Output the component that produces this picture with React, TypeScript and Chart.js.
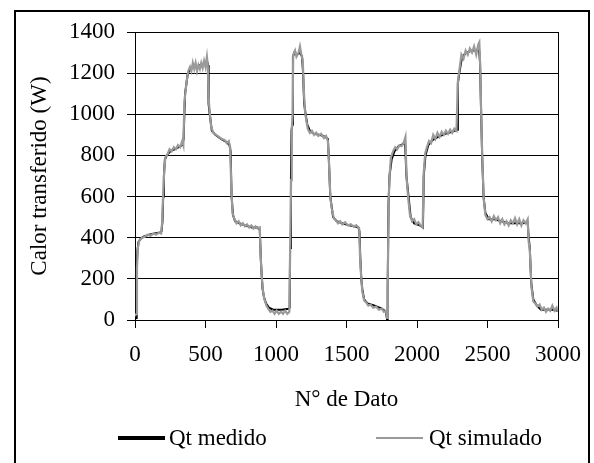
import React, { useEffect, useRef } from "react";
import { Chart, registerables } from "chart.js";

Chart.register(...registerables);

// N° de Dato (x) and Calor transferido (W) (y) pairs
const medidoX = [0, 8, 12, 18, 25, 40, 60, 100, 140, 180, 188, 195, 200, 205, 212, 225, 250, 280, 310, 335, 345, 350, 355, 365, 375, 395, 420, 440, 460, 490, 510, 518, 522, 530, 545, 570, 610, 650, 670, 678, 685, 695, 710, 740, 780, 830, 870, 885, 892, 900, 905, 915, 930, 950, 980, 1040, 1090, 1097, 1100, 1106, 1110, 1116, 1120, 1130, 1150, 1170, 1185, 1192, 1200, 1210, 1222, 1240, 1270, 1310, 1350, 1368, 1375, 1385, 1395, 1405, 1430, 1470, 1520, 1560, 1585, 1592, 1598, 1605, 1612, 1625, 1650, 1700, 1750, 1780, 1788, 1792, 1798, 1805, 1820, 1840, 1870, 1900, 1915, 1925, 1940, 1955, 1980, 2020, 2042, 2048, 2060, 2080, 2110, 2150, 2200, 2250, 2285, 2290, 2300, 2320, 2350, 2390, 2420, 2440, 2447, 2455, 2462, 2472, 2485, 2510, 2550, 2600, 2650, 2700, 2750, 2785, 2792, 2800, 2810, 2825, 2850, 2880, 2920, 2960, 3000];
const medidoY = [5, 10, 260, 340, 380, 395, 405, 415, 420, 425, 430, 480, 600, 700, 780, 800, 820, 830, 840, 850, 880, 1000, 1100, 1150, 1200, 1220, 1240, 1230, 1240, 1240, 1260, 1240, 1050, 1000, 920, 900, 880, 865, 850, 820, 600, 510, 480, 470, 460, 450, 450, 440, 300, 200, 150, 110, 80, 60, 50, 50, 55, 60, 350, 700, 920, 950, 1280, 1300, 1290, 1300, 1280, 1200, 1050, 1000, 950, 920, 905, 900, 890, 880, 780, 600, 550, 500, 480, 470, 460, 455, 450, 430, 300, 200, 150, 100, 80, 70, 55, 40, 0, 150, 560, 700, 780, 820, 845, 855, 870, 700, 600, 500, 470, 460, 450, 700, 800, 850, 875, 890, 905, 915, 925, 1150, 1200, 1280, 1300, 1310, 1310, 1320, 1250, 1000, 800, 600, 520, 490, 490, 480, 470, 470, 470, 475, 400, 350, 180, 100, 70, 50, 50, 50, 45];

const simuladoX = [0, 10, 14, 20, 30, 50, 70, 90, 110, 130, 150, 170, 185, 192, 200, 207, 215, 230, 245, 260, 275, 290, 305, 320, 335, 343, 350, 358, 368, 378, 390, 400, 410, 420, 430, 440, 450, 460, 470, 480, 490, 500, 510, 516, 522, 530, 540, 555, 575, 595, 615, 635, 650, 665, 675, 683, 692, 705, 720, 735, 750, 765, 780, 795, 810, 825, 840, 855, 870, 885, 890, 898, 906, 918, 932, 945, 960, 975, 990, 1005, 1020, 1035, 1050, 1065, 1080, 1095, 1100, 1107, 1112, 1118, 1122, 1135, 1145, 1160, 1170, 1180, 1190, 1197, 1205, 1215, 1225, 1240, 1255, 1270, 1285, 1300, 1320, 1340, 1355, 1368, 1376, 1386, 1396, 1410, 1425, 1440, 1455, 1470, 1490, 1510, 1530, 1550, 1570, 1590, 1596, 1604, 1612, 1625, 1640, 1655, 1670, 1690, 1710, 1730, 1750, 1765, 1780, 1788, 1793, 1799, 1806, 1815, 1830, 1845, 1860, 1875, 1890, 1905, 1918, 1926, 1938, 1950, 1965, 1980, 1995, 2010, 2025, 2040, 2048, 2058, 2070, 2085, 2100, 2115, 2130, 2145, 2160, 2175, 2190, 2205, 2220, 2235, 2250, 2265, 2280, 2290, 2300, 2315, 2330, 2345, 2360, 2375, 2390, 2405, 2420, 2435, 2442, 2448, 2456, 2463, 2473, 2485, 2500, 2515, 2530, 2545, 2560, 2575, 2590, 2605, 2620, 2635, 2650, 2665, 2680, 2695, 2710, 2725, 2740, 2755, 2770, 2785, 2792, 2800, 2812, 2825, 2840, 2855, 2870, 2885, 2900, 2915, 2930, 2945, 2960, 2975, 2990, 3000];
const simuladoY = [20, 30, 250, 350, 385, 400, 405, 415, 410, 420, 415, 425, 420, 470, 620, 720, 790, 805, 830, 820, 840, 830, 850, 840, 870, 850, 1050, 1110, 1170, 1210, 1230, 1210, 1250, 1220, 1250, 1210, 1240, 1220, 1250, 1225, 1260, 1230, 1280, 1240, 1080, 1010, 940, 910, 900, 890, 880, 875, 860, 870, 840, 640, 520, 490, 470, 480, 460, 470, 455, 465, 450, 460, 445, 455, 445, 450, 330, 220, 150, 100, 70, 55, 40, 45, 30, 45, 30, 40, 30, 45, 30, 40, 330, 680, 930, 1000, 1290, 1310, 1280, 1300, 1330, 1290, 1260, 1120, 1020, 970, 930, 910, 920, 900, 910, 895, 905, 885, 895, 870, 760, 590, 540, 495, 485, 470, 480, 465, 475, 460, 465, 455, 460, 445, 310, 210, 140, 95, 85, 70, 75, 60, 65, 50, 55, 40, 45, 10, 200, 580, 710, 790, 820, 840, 830, 850, 845, 860, 890, 690, 590, 510, 480, 490, 465, 475, 460, 450, 720, 810, 840, 870, 860, 900, 880, 910, 890, 915, 900, 920, 905, 925, 910, 930, 920, 1160, 1210, 1290, 1270, 1310, 1290, 1320, 1300, 1330, 1290, 1340, 1350, 1240, 980, 790, 590, 510, 490, 500, 480, 505, 485, 500, 470, 490, 465, 480, 460, 485, 470, 495, 465, 490, 460, 485, 470, 490, 380, 340, 160, 90, 80, 65, 75, 50, 60, 40, 55, 45, 70, 45, 60, 40];

const yTicks = [0, 200, 400, 600, 800, 1000, 1200, 1400];
const xTicks = [0, 500, 1000, 1500, 2000, 2500, 3000];

const FONT = "'Liberation Serif', 'Times New Roman', serif";
const FS = 23;

const pairs = (xs: number[], ys: number[]) => xs.map((x, i) => ({ x, y: ys[i] }));

export default function App() {
  const ref = useRef<HTMLCanvasElement | null>(null);

  useEffect(() => {
    if (!ref.current) return;
    const borderPlugin = {
      id: "rightBorder",
      beforeDatasetsDraw(chart: any) {
        const { ctx, chartArea } = chart;
        ctx.save();
        ctx.strokeStyle = "#000";
        ctx.lineWidth = 1;
        ctx.beginPath();
        const x = Math.round(chartArea.right) + 0.5;
        ctx.moveTo(x, chartArea.top);
        ctx.lineTo(x, chartArea.bottom);
        ctx.stroke();
        ctx.restore();
      },
    };
    const chart = new Chart(ref.current, {
      type: "line",
      data: {
        datasets: [
          {
            label: "Qt medido",
            data: pairs(medidoX, medidoY),
            borderColor: "#000000",
            borderWidth: 2,
            pointRadius: 0,
            tension: 0,
            order: 1,
          },
          {
            label: "Qt simulado",
            data: pairs(simuladoX, simuladoY),
            borderColor: "#9a9a9a",
            borderWidth: 2.2,
            pointRadius: 0,
            tension: 0,
            order: 0,
          },
        ],
      },
      options: {
        responsive: false,
        animation: false,
        events: [],
        layout: { padding: { left: 0, top: 32, right: 30, bottom: 43 } },
        plugins: {
          legend: { display: false },
          tooltip: { enabled: false },
        },
        scales: {
          x: {
            type: "linear",
            min: 0,
            max: 3000,
            afterBuildTicks: (scale: any) => {
              scale.ticks = xTicks.map((v) => ({ value: v }));
            },
            afterFit: (scale: any) => {
              scale.height = 100;
            },
            ticks: {
              color: "#000",
              font: { family: FONT, size: FS },
              padding: 13,
              maxRotation: 0,
              autoSkip: false,
              callback: (v: any) => String(v),
            },
            grid: {
              drawOnChartArea: false,
              drawTicks: true,
              tickLength: 8,
              color: "#000",
              lineWidth: 1,
            },
            border: { display: true, color: "#000", width: 1 },
            title: {
              display: true,
              text: "N° de Dato",
              color: "#000",
              font: { family: FONT, size: FS },
              padding: { top: 0, bottom: 6 },
            },
          },
          y: {
            type: "linear",
            min: 0,
            max: 1400,
            afterBuildTicks: (scale: any) => {
              scale.ticks = yTicks.map((v) => ({ value: v }));
            },
            afterFit: (scale: any) => {
              scale.width = 135;
            },
            ticks: {
              color: "#000",
              font: { family: FONT, size: FS },
              padding: 12,
              callback: (v: any) => String(v),
            },
            grid: {
              drawOnChartArea: true,
              drawTicks: true,
              tickLength: 8,
              color: "#000",
              lineWidth: 1,
            },
            border: { display: true, color: "#000", width: 1 },
            title: {
              display: true,
              text: "Calor transferido (W)",
              color: "#000",
              font: { family: FONT, size: FS },
              padding: { top: 26, bottom: 0 },
            },
          },
        },
      },
      plugins: [borderPlugin],
    } as any);
    return () => chart.destroy();
  }, []);

  const textStyle: React.CSSProperties = {
    position: "absolute",
    fontFamily: FONT,
    fontSize: FS,
    color: "#000",
    lineHeight: "26px",
    whiteSpace: "nowrap",
  };

  return (
    <div style={{ position: "fixed", left: 0, top: 0, width: 594, height: 463, overflow: "hidden", background: "#fff" }}>
      <canvas ref={ref} width={594} height={463} style={{ position: "absolute", left: 0, top: 0, width: 594, height: 463 }} />
      <div style={{ position: "absolute", left: 14, top: 10, width: 576, height: 470, border: "2px solid #000", boxSizing: "border-box", pointerEvents: "none" }} />
      <div style={{ position: "absolute", left: 118, top: 436, width: 47, height: 4, background: "#000" }} />
      <div style={{ ...textStyle, left: 169, top: 425 }}>Qt medido</div>
      <div style={{ position: "absolute", left: 376, top: 437, width: 47, height: 2, background: "#9a9a9a" }} />
      <div style={{ ...textStyle, left: 429, top: 425 }}>Qt simulado</div>
    </div>
  );
}
